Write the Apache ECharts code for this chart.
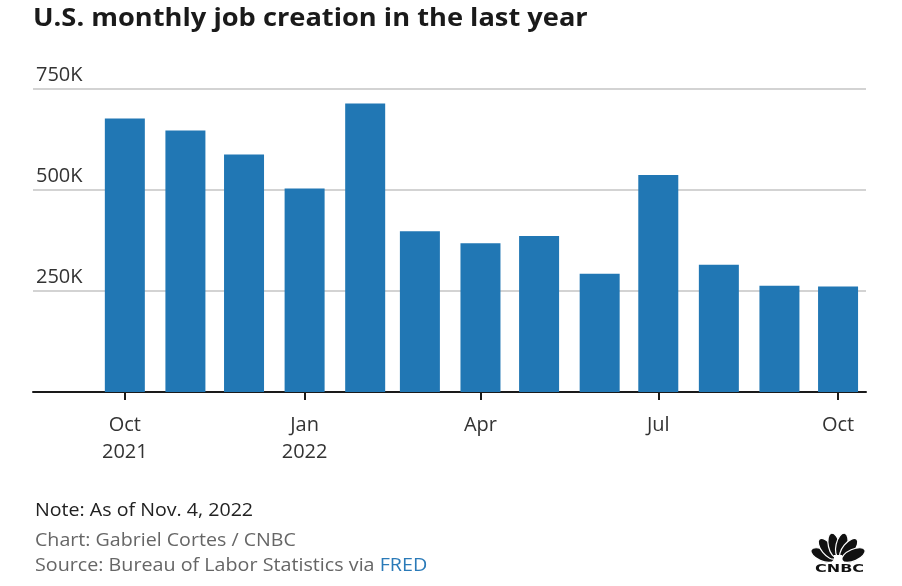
<!DOCTYPE html>
<html>
<head>
<meta charset="utf-8">
<script src="https://cdn.jsdelivr.net/npm/echarts@6/dist/echarts.min.js"></script>
<style>
html,body{margin:0;padding:0;background:#fff;}
#chart{width:902px;height:586px;}
</style>
</head>
<body>
<div id="chart"></div>
<script>
// ---- Data ----
const months = ['2021-10-01','2021-11-01','2021-12-01','2022-01-01','2022-02-01','2022-03-01','2022-04-01','2022-05-01','2022-06-01','2022-07-01','2022-08-01','2022-09-01','2022-10-01'];
const jobsK = [677, 647, 588, 504, 714, 398, 368, 386, 293, 537, 315, 263, 261];
const tickMonths = ['2021-10-01','2022-01-01','2022-04-01','2022-07-01','2022-10-01'];
const tickLabels = ['Oct\n2021','Jan\n2022','Apr','Jul','Oct'];

const DAY = 86400000;
// day number since epoch
function dn(s){ const p = s.split('-').map(Number); return Math.round(Date.UTC(p[0], p[1]-1, p[2]) / DAY); }
const tickDays = tickMonths.map(dn);

const chart = echarts.init(document.getElementById('chart'), null, {renderer:'canvas'});
const FONT = '"Open Sans", Lato, sans-serif';

// peacock feathers
const feathers = [];
const px = 838, py = 562;
[-66,-39,-13,13,39,66].forEach(function(a){
  const r = a*Math.PI/180;
  const d = 17;
  feathers.push({
    type:'ellipse',
    shape:{cx:0, cy:0, rx:5.8, ry:12.5},
    x: px + d*Math.sin(r), y: py - d*Math.cos(r),
    rotation: -r,
    style:{fill:'#111', stroke:'#fff', lineWidth:1.2}
  });
});

chart.setOption({
  animation:false,
  textStyle:{fontFamily:FONT},
  grid:{left:33, right:36, top:89, bottom:194, containLabel:false},
  xAxis:{
    type:'value',
    min: dn('2021-10-01') - 47,
    max: dn('2022-10-01') + 14.3,
    axisLine:{show:true, onZero:false, lineStyle:{color:'#1a1a1a', width:2}},
    axisTick:{show:true, customValues: tickDays, length:8, lineStyle:{color:'#1a1a1a', width:2}},
    splitLine:{show:false},
    axisLabel:{
      customValues: tickDays,
      showMinLabel:true, showMaxLabel:true,
      margin:20, fontSize:20, color:'#333', lineHeight:27, fontFamily:FONT,
      formatter:function(v){
        const i = tickDays.indexOf(Math.round(v));
        return i >= 0 ? tickLabels[i] : '';
      }
    }
  },
  yAxis:{
    type:'value', min:0, max:750, interval:250,
    axisLine:{show:false}, axisTick:{show:false},
    splitLine:{lineStyle:{color:'#d3d3d3', width:2}},
    axisLabel:{
      inside:true, verticalAlign:'bottom', margin:3, padding:[0,0,4,0],
      fontSize:20, color:'#333', fontFamily:FONT,
      formatter:function(v){ return v === 0 ? '' : v + 'K'; }
    }
  },
  series:[{
    type:'bar',
    barWidth:40,
    itemStyle:{color:'#2177b4'},
    data: months.map(function(m,i){ return [dn(m), jobsK[i]]; }),
    z:1
  }],
  graphic:[
    {type:'text', x:33, y:6, scaleX:1.09, style:{text:'U.S. monthly job creation in the last year', font:'bold 25px '+FONT, fill:'#1a1a1a'}},
    {type:'text', x:35, y:502, scaleX:1.09, style:{text:'Note: As of Nov. 4, 2022', font:'18px '+FONT, fill:'#222'}},
    {type:'text', x:35, y:532, scaleX:1.09, style:{text:'Chart: Gabriel Cortes / CNBC', font:'18px '+FONT, fill:'#666'}},
    {type:'text', x:35, y:557, scaleX:1.095, style:{
      text:'{a|Source: Bureau of Labor Statistics via }{b|FRED}',
      font:'18px '+FONT,
      rich:{a:{fontSize:18, fontFamily:FONT, fill:'#666'}, b:{fontSize:18, fontFamily:FONT, fill:'#2a7ab8'}}
    }},
    {type:'group', children: feathers},
    {type:'rect', shape:{x:834, y:555, width:8, height:8}, style:{fill:'#fff'}},
    {type:'text', x:815, y:564, scaleX:1.6, style:{text:'CNBC', font:'bold 10px "DejaVu Sans", sans-serif', fill:'#111', verticalAlign:'top'}}
  ]
});
</script>
</body>
</html>
